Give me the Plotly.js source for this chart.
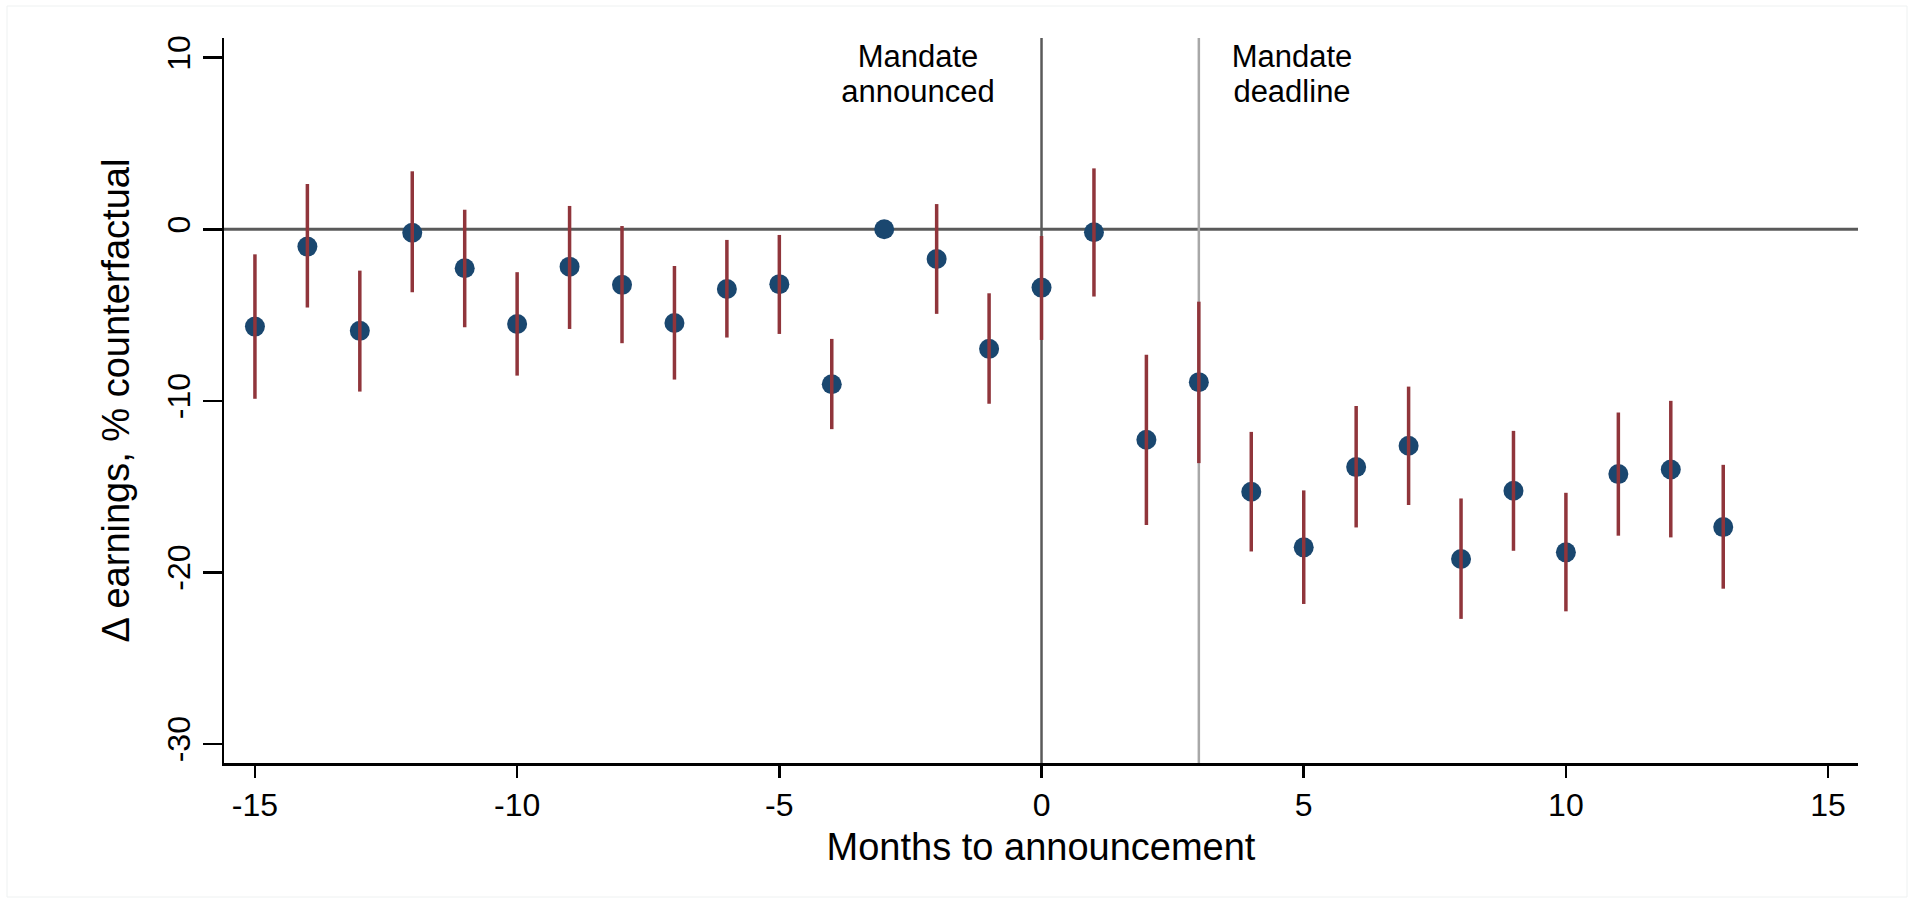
<!DOCTYPE html>
<html>
<head>
<meta charset="utf-8">
<script src="https://cdn.plot.ly/plotly-3.0.1.min.js"></script>
<style>
  html, body { margin: 0; padding: 0; background: #ffffff; }
  #chart { width: 1913px; height: 900px; }
</style>
</head>
<body>
<div id="chart"></div>
<script>
// Months relative to the announcement
const months = [-15, -14, -13, -12, -11, -10, -9, -8, -7, -6, -5, -4, -3, -2, -1,
                0, 1, 2, 3, 4, 5, 6, 7, 8, 9, 10, 11, 12, 13];
// Point estimates (Δ earnings, % of counterfactual)
const estimate = [-5.67, -1.01, -5.92, -0.2, -2.27, -5.52, -2.18, -3.24, -5.46, -3.48, -3.2, -9.03, 0, -1.73, -6.97,
                  -3.4, -0.17, -12.27, -8.91, -15.3, -18.54, -13.86, -12.62, -19.22, -15.24, -18.83, -14.27, -14.0, -17.36];
// Confidence interval bounds (null = reference month, no interval)
const ciLow = [-9.88, -4.56, -9.46, -3.67, -5.71, -8.53, -5.81, -6.64, -8.76, -6.31, -6.1, -11.65, null, -4.93, -10.17,
               -6.45, -3.92, -17.24, -13.63, -18.78, -21.84, -17.38, -16.07, -22.71, -18.74, -22.27, -17.86, -17.96, -20.95];
const ciHigh = [-1.46, 2.64, -2.41, 3.38, 1.14, -2.5, 1.36, 0.19, -2.14, -0.62, -0.33, -6.39, null, 1.47, -3.73,
                -0.39, 3.55, -7.32, -4.22, -11.81, -15.22, -10.3, -9.17, -15.69, -11.75, -15.36, -10.68, -10.0, -13.73];
// Axis ticks
const xTicks = [-15, -10, -5, 0, 5, 10, 15];
const yTicks = [-30, -20, -10, 0, 10];
// Event markers
const eventX = [0, 3];
const eventLine1 = ["Mandate", "Mandate"];
const eventLine2 = ["announced", "deadline"];

// Build spike segments for the confidence intervals
const spikeX = [], spikeY = [];
months.forEach((m, i) => {
  if (ciLow[i] === null || ciHigh[i] === null) return;
  spikeX.push(m, m, null);
  spikeY.push(ciLow[i], ciHigh[i], null);
});

const FONT = "Liberation Sans, Arial, sans-serif";
const NAVY = "#1a476f";
const MAROON = "#90353b";

const traces = [
  {
    type: "scatter", mode: "markers",
    x: months, y: estimate,
    marker: { color: NAVY, size: 20, line: { width: 0 } },
    hoverinfo: "x+y", showlegend: false
  },
  {
    type: "scatter", mode: "lines",
    x: spikeX, y: spikeY,
    line: { color: MAROON, width: 3.5 },
    connectgaps: false, hoverinfo: "skip", showlegend: false
  }
];

const shapes = [
  // horizontal reference line at zero
  { type: "line", xref: "paper", yref: "y", x0: 0, x1: 1, y0: 0, y1: 0,
    line: { color: "#5a5a5a", width: 3 }, layer: "below" },
  // announcement line
  { type: "line", xref: "x", yref: "paper", x0: eventX[0], x1: eventX[0], y0: 0, y1: 1,
    line: { color: "#5a5a5a", width: 2.5 }, layer: "below" },
  // deadline line
  { type: "line", xref: "x", yref: "paper", x0: eventX[1], x1: eventX[1], y0: 0, y1: 1,
    line: { color: "#a8a8a8", width: 2.5 }, layer: "below" },
  // faint outer frame
  { type: "rect", xref: "paper", yref: "paper",
    x0: (7 - 224) / 1634, x1: (1907 - 224) / 1634,
    y0: (763 - 897) / 725, y1: (763 - 6) / 725,
    line: { color: "#eef1f1", width: 1 }, layer: "below" }
];

const annFont = { family: FONT, size: 31, color: "#000000" };
const annotations = [
  { xref: "x", yref: "paper", x: eventX[0], y: 0.9985, xanchor: "right", yanchor: "top",
    xshift: -44, text: eventLine1[0], showarrow: false, font: annFont, align: "center",
    width: 160, borderpad: 0, borderwidth: 0 },
  { xref: "x", yref: "paper", x: eventX[0], y: 0.9505, xanchor: "right", yanchor: "top",
    xshift: -44, text: eventLine2[0], showarrow: false, font: annFont, align: "center",
    width: 160, borderpad: 0, borderwidth: 0 },
  { xref: "x", yref: "paper", x: eventX[1], y: 0.9985, xanchor: "left", yanchor: "top",
    xshift: 30, text: eventLine1[1], showarrow: false, font: annFont, align: "center",
    width: 126, borderpad: 0, borderwidth: 0 },
  { xref: "x", yref: "paper", x: eventX[1], y: 0.9505, xanchor: "left", yanchor: "top",
    xshift: 30, text: eventLine2[1], showarrow: false, font: annFont, align: "center",
    width: 126, borderpad: 0, borderwidth: 0 }
];

const layout = {
  width: 1913, height: 900,
  paper_bgcolor: "#ffffff", plot_bgcolor: "#ffffff",
  margin: { l: 224, r: 55, t: 38, b: 137, pad: 0 },
  font: { family: FONT, color: "#000000" },
  showlegend: false,
  xaxis: {
    range: [-15.59, 15.57],
    tickvals: xTicks, ticktext: xTicks.map(String),
    ticks: "outside", ticklen: 12, tickwidth: 2.5, tickcolor: "#000000",
    showline: true, linecolor: "#000000", linewidth: 2.5,
    showgrid: false, zeroline: false,
    tickfont: { family: FONT, size: 32, color: "#000000" },
    title: { text: "Months to announcement", font: { family: FONT, size: 38, color: "#000000" }, standoff: 12 }
  },
  yaxis: {
    range: [-31.11, 11.15],
    tickvals: yTicks, ticktext: yTicks.map(String),
    tickangle: -90,
    ticks: "outside", ticklen: 19, tickwidth: 2.5, tickcolor: "#000000",
    showline: true, linecolor: "#000000", linewidth: 2.5,
    showgrid: false, zeroline: false,
    tickfont: { family: FONT, size: 32, color: "#000000" },
    title: { text: "Δ earnings, % counterfactual", font: { family: FONT, size: 38, color: "#000000" }, standoff: 20 }
  },
  shapes: shapes,
  annotations: annotations
};

Plotly.newPlot("chart", traces, layout, { displayModeBar: false, staticPlot: true });
</script>
</body>
</html>
